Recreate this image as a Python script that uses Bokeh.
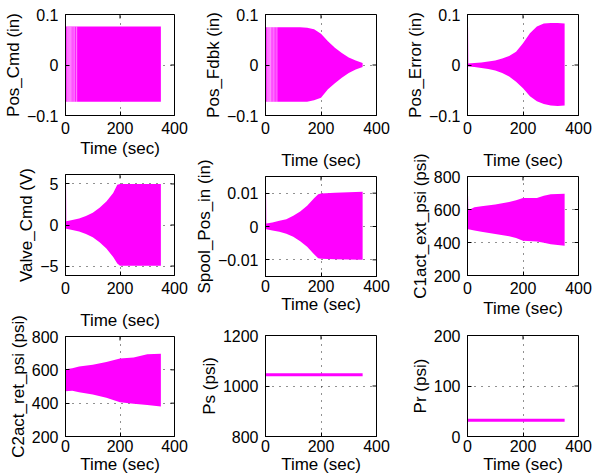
from bokeh.plotting import figure
from bokeh.layouts import row, column
from bokeh.models import Range1d, FixedTicker, Title
from bokeh.embed import file_html
from bokeh.resources import INLINE

# ---------------- data (envelopes) ----------------
x_ticks = [0, 200, 400]

t_cmd = [0, 25, 50, 75, 100, 125, 150, 175, 200, 225, 250, 275, 300, 325, 350]
pos_cmd_hi = [0.076, 0.076, 0.076, 0.076, 0.076, 0.076, 0.076, 0.076, 0.076, 0.076, 0.076, 0.076, 0.076, 0.076, 0.076]
pos_cmd_lo = [-0.073, -0.073, -0.073, -0.073, -0.073, -0.073, -0.073, -0.073, -0.073, -0.073, -0.073, -0.073, -0.073, -0.073, -0.073]

t_fdbk = [0, 25, 50, 75, 100, 125, 150, 175, 200, 225, 250, 275, 300, 325, 350]
pos_fdbk_hi = [0.075, 0.075, 0.075, 0.075, 0.075, 0.075, 0.074, 0.071, 0.062, 0.047, 0.034, 0.024, 0.015, 0.009, 0.004]
pos_fdbk_lo = [-0.073, -0.073, -0.073, -0.073, -0.073, -0.073, -0.073, -0.070, -0.065, -0.048, -0.036, -0.025, -0.016, -0.009, -0.004]

t_err = [0, 2, 3, 25, 50, 75, 100, 125, 150, 175, 200, 225, 250, 275, 300, 325, 350]
pos_err_hi = [0.075, 0.075, 0.003, 0.004, 0.005, 0.007, 0.009, 0.013, 0.018, 0.026, 0.043, 0.063, 0.076, 0.082, 0.083, 0.083, 0.082]
pos_err_lo = [-0.003, -0.003, -0.003, -0.004, -0.006, -0.008, -0.011, -0.016, -0.023, -0.033, -0.046, -0.062, -0.072, -0.077, -0.080, -0.081, -0.080]

t_valve = [0, 2, 3, 25, 50, 75, 100, 125, 150, 175, 190, 200, 250, 300, 350]
valve_hi = [5.0, 5.0, 0.45, 0.6, 0.8, 1.1, 1.5, 2.1, 2.85, 3.9, 4.9, 5.0, 5.0, 5.0, 5.0]
valve_lo = [-0.45, -0.45, -0.45, -0.6, -0.8, -1.1, -1.5, -2.1, -2.85, -3.9, -4.7, -4.95, -4.95, -4.95, -4.95]

t_spool = [0, 2, 3, 25, 50, 75, 100, 125, 150, 175, 190, 200, 250, 300, 350]
spool_hi = [0.0105, 0.0105, 0.0009, 0.0012, 0.0017, 0.0022, 0.0032, 0.0045, 0.0062, 0.0085, 0.0097, 0.0099, 0.0101, 0.0103, 0.0104]
spool_lo = [-0.0008, -0.0008, -0.0008, -0.0012, -0.0016, -0.0022, -0.0031, -0.0044, -0.0061, -0.0083, -0.0095, -0.0097, -0.0098, -0.0099, -0.0100]

t_c1 = [0, 2, 3, 25, 50, 100, 150, 175, 200, 250, 275, 300, 350]
c1_hi = [685, 685, 595, 614, 620, 630, 646, 656, 670, 670, 684, 692, 695]
c1_lo = [480, 480, 480, 472, 465, 452, 438, 428, 410, 406, 398, 390, 380]

t_c2 = [0, 25, 50, 100, 150, 200, 250, 300, 350]
c2_hi = [604, 610, 620, 631, 647, 668, 674, 693, 697]
c2_lo = [472, 474, 465, 452, 432, 405, 397, 389, 380]

# start-up oscillation gaps (white slivers) in the command / feedback traces
gap_times = [6, 10, 14, 18, 23, 28, 34, 41]

t_ps = [0, 350]
ps_val = [1045, 1045]

t_pr = [0, 350]
pr_val = [32, 32]

MAGENTA = "#ff00ff"
FONT = "Liberation Sans"
XLABEL = "Time (sec)"

col_w = [191, 209, 200]
col_bl = [63, 74, 67]
col_br = [17, 24, 22]
FW, FH = 111, 101   # frame size in px
TICK = 4


def minus(v):
    s = ("%g" % v)
    return s.replace("-", "\u2212")


def panel(c, bt, bb, yr, yticks, ylabel, xlabel=True, title_label=False):
    p = figure(width=col_w[c], height=bt + FH + bb,
               x_range=Range1d(0, 400), y_range=Range1d(*yr),
               output_backend="svg", toolbar_location=None,
               min_border_left=col_bl[c], min_border_right=col_br[c],
               min_border_top=bt, min_border_bottom=bb,
               background_fill_color="white", border_fill_color="white",
               outline_line_color="black", outline_line_width=1)
    p.xaxis.ticker = FixedTicker(ticks=x_ticks)
    p.yaxis.ticker = FixedTicker(ticks=yticks)
    p.xaxis.major_label_overrides = {v: minus(v) for v in x_ticks}
    p.yaxis.major_label_overrides = {v: minus(v) for v in yticks}
    if xlabel:
        p.xaxis.axis_label = XLABEL
    p.yaxis.axis_label = ylabel
    for ax in (p.xaxis[0], p.yaxis[0]):
        ax.major_label_text_font = FONT
        ax.major_label_text_font_size = "16px"
        ax.major_label_text_color = "black"
        ax.axis_label_text_font = FONT
        ax.axis_label_text_font_size = "17px"
        ax.axis_label_text_font_style = "normal"
        ax.axis_label_text_color = "black"
        ax.major_tick_in = TICK
        ax.major_tick_out = 0
        ax.minor_tick_line_color = None
        ax.axis_line_color = "black"
        ax.major_tick_line_color = "black"
    p.yaxis.major_label_standoff = 7
    p.yaxis.axis_label_standoff = 1
    p.xaxis.major_label_standoff = 6 if bb >= 45 or not xlabel else 3
    p.xaxis.axis_label_standoff = 2 if bb >= 45 else 0
    for g in (p.xgrid[0], p.ygrid[0]):
        g.grid_line_color = "#222222"
        g.grid_line_dash = "1 6"
        g.grid_line_width = 1
    # inward ticks on the top and right edges of the box
    y0, y1 = yr
    dy = TICK * (y1 - y0) / FH
    dx = TICK * 400 / FW
    p.segment(x0=x_ticks, y0=[y1] * len(x_ticks), x1=x_ticks, y1=[y1 - dy] * len(x_ticks),
              color="black", line_width=1)
    p.segment(x0=[400] * len(yticks), y0=yticks, x1=[400 - dx] * len(yticks), y1=yticks,
              color="black", line_width=1)
    if title_label:
        # x-axis label of the panel above, carried by this panel so that the
        # long y label of this panel is not cut by the row boundary
        p.add_layout(Title(text=XLABEL, align="center", text_font=FONT,
                           text_font_size="17px", text_font_style="normal",
                           text_color="black", standoff=13), "above")
    return p


# column 1
p1 = panel(0, 14, 45, (-0.1, 0.1), [-0.1, 0, 0.1], "Pos_Cmd (in)")
p4 = panel(0, 14, 27, (-6.15, 6.15), [-5, 0, 5], "Valve_Cmd (V)", xlabel=False)
p7 = panel(0, 33, 40, (200, 800), [200, 400, 600, 800], "C2act_ret_psi (psi)", title_label=True)
# column 2
p2 = panel(1, 14, 27, (-0.1, 0.1), [-0.1, 0, 0.1], "Pos_Fdbk (in)", xlabel=False)
p5 = panel(1, 33, 44, (-0.015, 0.015), [-0.01, 0, 0.01], "Spool_Pos_in (in)", title_label=True)
p8 = panel(1, 15, 40, (800, 1200), [800, 1000, 1200], "Ps (psi)")
# column 3
p3 = panel(2, 14, 27, (-0.1, 0.1), [-0.1, 0, 0.1], "Pos_Error (in)", xlabel=False)
p6 = panel(2, 32, 45, (200, 800), [200, 400, 600, 800], "C1act_ext_psi (psi)", title_label=True)
p9 = panel(2, 15, 40, (0, 200), [0, 100, 200], "Pr (psi)")

p1.varea(x=t_cmd, y1=pos_cmd_lo, y2=pos_cmd_hi, color=MAGENTA)
p1.segment(x0=gap_times, y0=[pos_cmd_lo[0]] * len(gap_times), x1=gap_times,
           y1=[pos_cmd_hi[0]] * len(gap_times), color="white", line_width=0.8, line_alpha=0.7)

p2.varea(x=t_fdbk, y1=pos_fdbk_lo, y2=pos_fdbk_hi, color=MAGENTA)
p2.segment(x0=gap_times, y0=[pos_fdbk_lo[0]] * len(gap_times), x1=gap_times,
           y1=[pos_fdbk_hi[0]] * len(gap_times), color="white", line_width=0.8, line_alpha=0.7)

p3.varea(x=t_err, y1=pos_err_lo, y2=pos_err_hi, color=MAGENTA)
p4.varea(x=t_valve, y1=valve_lo, y2=valve_hi, color=MAGENTA)
p5.varea(x=t_spool, y1=spool_lo, y2=spool_hi, color=MAGENTA)
p6.varea(x=t_c1, y1=c1_lo, y2=c1_hi, color=MAGENTA)
p7.varea(x=t_c2, y1=c2_lo, y2=c2_hi, color=MAGENTA)
p8.line(x=t_ps, y=ps_val, color=MAGENTA, line_width=3)
p9.line(x=t_pr, y=pr_val, color=MAGENTA, line_width=3)

layout = row(column(p1, p4, p7), column(p2, p5, p8), column(p3, p6, p9))

open("out.html", "w").write(file_html(layout, INLINE))
